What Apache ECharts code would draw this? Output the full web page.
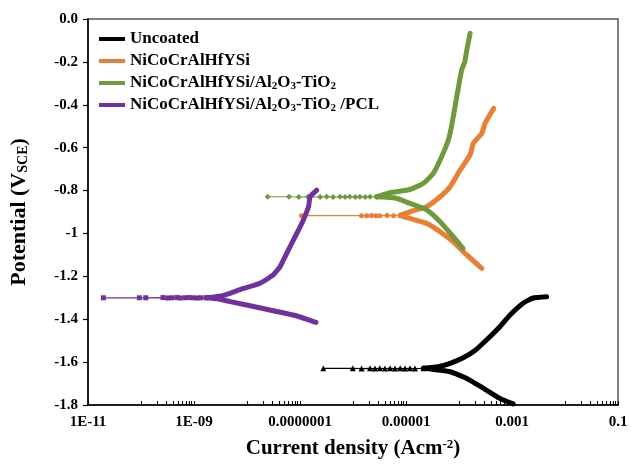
<!DOCTYPE html>
<html><head><meta charset="utf-8">
<script src="https://cdn.jsdelivr.net/npm/echarts@6/dist/echarts.min.js"></script>
<style>html,body{margin:0;padding:0;background:#fff}#c{width:631px;height:468px}</style>
</head><body><div id="c"></div>
<script>
const seriesNames = ['Uncoated', 'NiCoCrAlHfYSi', 'NiCoCrAlHfYSi/Al2O3-TiO2', 'NiCoCrAlHfYSi/Al2O3-TiO2/PCL'];
const legendLabels = ['Uncoated', 'NiCoCrAlHfYSi', 'NiCoCrAlHfYSi/Al{s|2}O{s|3}-TiO{s|2}', 'NiCoCrAlHfYSi/Al{s|2}O{s|3}-TiO{s|2} /PCL'];
const seriesColors = ['#000000', '#ED7D31', '#6F9A3B', '#7030A0'];

const xTickValues = [1e-11, 1e-9, 1e-7, 1e-5, 1e-3, 1e-1];
const xTickLabels = ['1E-11', '1E-09', '0.0000001', '0.00001', '0.001', '0.1'];
const yTickValues = [0, -0.2, -0.4, -0.6, -0.8, -1.0, -1.2, -1.4, -1.6, -1.8];
const yTickLabels = ['0.0', '-0.2', '-0.4', '-0.6', '-0.8', '-1', '-1.2', '-1.4', '-1.6', '-1.8'];

// Uncoated  [current density, potential]
const uncoatedFlat = [[2.75e-7,-1.629],[9.9e-7,-1.629],[1.45e-6,-1.630],[2.1e-6,-1.629],[2.6e-6,-1.630],[3.2e-6,-1.629],[4.0e-6,-1.630],[5.0e-6,-1.629],[6.2e-6,-1.630],[7.8e-6,-1.629],[9.6e-6,-1.630],[1.19e-5,-1.629],[1.48e-5,-1.630],[2.14e-5,-1.629]];
const uncoatedAnodic = [[2.14e-5,-1.629],[4.0e-5,-1.622],[6.8e-5,-1.606],[1.2e-4,-1.580],[2.0e-4,-1.546],[3.3e-4,-1.497],[5.9e-4,-1.435],[9.1e-4,-1.381],[1.62e-3,-1.325],[2.5e-3,-1.301],[4.5e-3,-1.295]];
const uncoatedCathodic = [[2.14e-5,-1.629],[6.8e-5,-1.645],[1.4e-4,-1.676],[2.9e-4,-1.722],[5.9e-4,-1.769],[1.05e-3,-1.795]];

// NiCoCrAlHfYSi
const nicoFlat = [[1.07e-7,-0.917],[1.45e-6,-0.917],[1.82e-6,-0.918],[2.24e-6,-0.916],[2.7e-6,-0.917],[3.2e-6,-0.918],[4.4e-6,-0.916],[5.8e-6,-0.917],[7.8e-6,-0.917]];
const nicoAnodic = [[7.8e-6,-0.915],[1.38e-5,-0.894],[2.45e-5,-0.875],[4.4e-5,-0.829],[6.8e-5,-0.782],[1.05e-4,-0.704],[1.62e-4,-0.634],[1.86e-4,-0.580],[2.7e-4,-0.533],[3.1e-4,-0.486],[4.5e-4,-0.417]];
const nicoCathodic = [[7.8e-6,-0.917],[1.19e-5,-0.930],[2.45e-5,-0.953],[4.4e-5,-0.992],[7.8e-5,-1.039],[1.4e-4,-1.100],[2.7e-4,-1.163]];

// NiCoCrAlHfYSi/Al2O3-TiO2
const ceramicFlat = [[2.45e-8,-0.829],[6.2e-8,-0.829],[9.5e-8,-0.830],[1.41e-7,-0.829],[2.4e-7,-0.830],[3.2e-7,-0.829],[4.2e-7,-0.830],[5.7e-7,-0.829],[7.1e-7,-0.830],[8.7e-7,-0.829],[1.1e-6,-0.830],[1.35e-6,-0.829],[1.7e-6,-0.830],[2.1e-6,-0.829],[2.8e-6,-0.829]];
const ceramicAnodic = [[2.8e-6,-0.829],[5.0e-6,-0.810],[1.19e-5,-0.795],[2.14e-5,-0.766],[3.27e-5,-0.720],[4.7e-5,-0.642],[6.3e-5,-0.564],[7.2e-5,-0.502],[8.4e-5,-0.409],[9.8e-5,-0.316],[1.12e-4,-0.238],[1.29e-4,-0.199],[1.4e-4,-0.145],[1.62e-4,-0.067]];
const ceramicCathodic = [[2.8e-6,-0.829],[6.3e-6,-0.835],[1.19e-5,-0.860],[2.45e-5,-0.890],[4.4e-5,-0.945],[7.8e-5,-1.015],[1.19e-4,-1.070]];

// NiCoCrAlHfYSi/Al2O3-TiO2/PCL
const pclFlat = [[1.95e-11,-1.300],[9.3e-11,-1.300],[1.23e-10,-1.300],[2.6e-10,-1.299],[3.2e-10,-1.301],[3.85e-10,-1.300],[4.8e-10,-1.299],[5.5e-10,-1.301],[6.8e-10,-1.300],[8.1e-10,-1.299],[9.6e-10,-1.300],[1.15e-9,-1.301],[1.35e-9,-1.300],[1.7e-9,-1.300]];
const pclAnodic = [[1.7e-9,-1.300],[3.5e-9,-1.290],[7.4e-9,-1.262],[1.76e-8,-1.232],[3.1e-8,-1.194],[3.6e-8,-1.176],[4.2e-8,-1.155],[5.6e-8,-1.093],[8.7e-8,-1.000],[1.15e-7,-0.938],[1.45e-7,-0.875],[1.55e-7,-0.829],[2.07e-7,-0.798]];
const pclCathodic = [[1.7e-9,-1.300],[2.8e-9,-1.305],[4.8e-9,-1.318],[2.0e-8,-1.350],[8.7e-8,-1.385],[2.0e-7,-1.415]];

const groups = [
  [uncoatedFlat, uncoatedAnodic, uncoatedCathodic, 'triangle', 6],
  [nicoFlat, nicoAnodic, nicoCathodic, 'circle', 5],
  [ceramicFlat, ceramicAnodic, ceramicCathodic, 'diamond', 6],
  [pclFlat, pclAnodic, pclCathodic, 'rect', 5]
];

const FONT = '"Liberation Serif", "Times New Roman", serif';

const series = [];
groups.forEach((g, i) => {
  const color = seriesColors[i];
  series.push({
    name: seriesNames[i], type: 'line', data: g[0],
    symbol: g[3], symbolSize: g[4], showSymbol: true,
    itemStyle: { color: color }, lineStyle: { color: color, width: 1.2 },
    z: 2 + i
  });
  [g[1], g[2]].forEach(d => {
    series.push({
      name: seriesNames[i], type: 'line', data: d, symbol: 'none', smooth: 0.15,
      itemStyle: { color: color },
      lineStyle: { color: color, width: 5, cap: 'round', join: 'round' },
      z: 2 + i
    });
  });
});

function nearestIdx(arr, v, lg) {
  let best = 0, bd = Infinity;
  arr.forEach((a, k) => {
    const d = lg ? Math.abs(Math.log10(a) - Math.log10(v)) : Math.abs(a - v);
    if (d < bd) { bd = d; best = k; }
  });
  return best;
}

const xTicksAll = xTickValues.slice();
for (let e = -10; e <= -2; e += 2) {
  for (let m = 1; m <= 9; m++) xTicksAll.push(m * Math.pow(10, e));
}

const chart = echarts.init(document.getElementById('c'), null, { renderer: 'canvas' });
chart.setOption({
  animation: false,
  backgroundColor: '#ffffff',
  grid: { left: 88, right: 13, top: 19, bottom: 63, show: true, borderColor: '#555', borderWidth: 1.5, containLabel: false },
  legend: {
    orient: 'vertical', left: 94, top: 25, itemGap: 4,
    data: seriesNames, icon: 'rect', itemWidth: 26, itemHeight: 4,
    formatter: name => legendLabels[seriesNames.indexOf(name)],
    textStyle: { fontFamily: FONT, fontWeight: 'bold', fontSize: 17, color: '#000', lineHeight: 18,
      rich: { s: { fontFamily: FONT, fontWeight: 'bold', fontSize: 11, verticalAlign: 'bottom', lineHeight: 18, color: '#000' } } }
  },
  xAxis: {
    type: 'log', logBase: 10, min: 1e-11, max: 0.1,
    axisLine: { show: true, onZero: false, lineStyle: { color: '#000', width: 1.5 } },
    axisTick: { show: true, inside: true, length: 4, customValues: xTicksAll, lineStyle: { color: '#000', width: 1.1 } },
    axisLabel: { customValues: xTickValues, formatter: v => xTickLabels[nearestIdx(xTickValues, v, true)],
      fontFamily: FONT, fontWeight: 'bold', fontSize: 15, color: '#000', margin: 10 },
    splitLine: { show: false },
    name: 'Current density (Acm{sup|-2})', nameLocation: 'middle', nameGap: 33,
    nameTextStyle: { fontFamily: FONT, fontWeight: 'bold', fontSize: 21, color: '#000',
      rich: { sup: { fontFamily: FONT, fontWeight: 'bold', fontSize: 13, verticalAlign: 'top', color: '#000' } } }
  },
  yAxis: {
    type: 'value', min: -1.8, max: 0, interval: 0.2,
    axisLine: { show: true, onZero: false, lineStyle: { color: '#000', width: 1.5 } },
    axisTick: { show: true, inside: false, length: 5, lineStyle: { color: '#000', width: 1.2 } },
    axisLabel: { formatter: v => yTickLabels[nearestIdx(yTickValues, v, false)],
      fontFamily: FONT, fontWeight: 'bold', fontSize: 15, color: '#000', margin: 10 },
    splitLine: { show: false },
    name: 'Potential (V{sub|SCE})', nameLocation: 'middle', nameGap: 58, nameRotate: 90,
    nameTextStyle: { fontFamily: FONT, fontWeight: 'bold', fontSize: 22, color: '#000',
      rich: { sub: { fontFamily: FONT, fontWeight: 'bold', fontSize: 14, verticalAlign: 'bottom', color: '#000' } } }
  },
  series: series
});
</script>
</body></html>
